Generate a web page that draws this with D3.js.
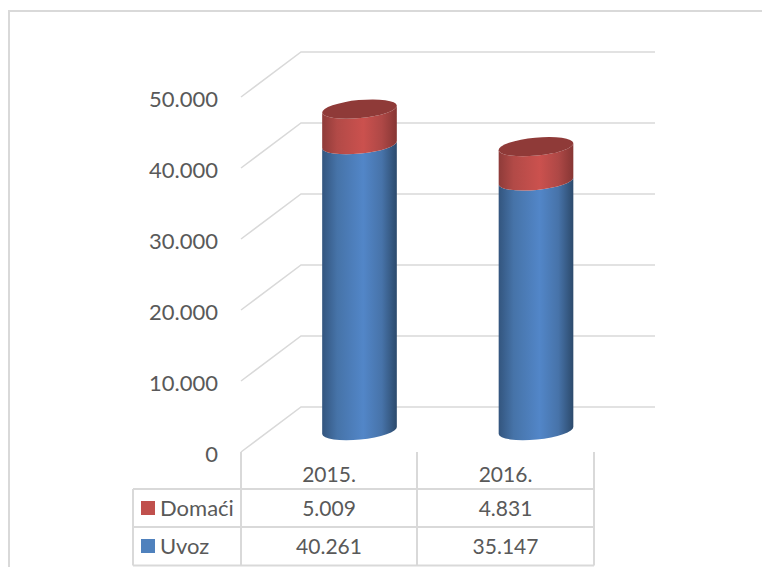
<!DOCTYPE html>
<html>
<head>
<meta charset="utf-8">
<script src="https://cdn.jsdelivr.net/npm/d3@7/dist/d3.min.js"></script>
<style>
html, body { margin: 0; padding: 0; background: #fff; }
svg { display: block; }
text { font-family: Lato, "Open Sans", sans-serif; fill: #595959; }
</style>
</head>
<body>
<div id="chart"></div>
<script>
const years = ["2015.", "2016."]
const seriesNames = ["Domaći", "Uvoz"]
const domaci = [5009, 4831]
const uvoz = [40261, 35147]
const domaciLabels = ["5.009", "4.831"]
const uvozLabels = ["40.261", "35.147"]
const yTicks = [0, 10000, 20000, 30000, 40000, 50000]

const width = 762
const height = 567

const svg = d3.select("#chart").append("svg")
    .attr("width", width)
    .attr("height", height)

const defs = svg.append("defs")

const addGradient = (id, colors) => {
    const g = defs.append("linearGradient").attr("id", id)
    const offsets = ["0%", "20%", "55%", "80%", "100%"]
    colors.forEach((c, i) => {
        g.append("stop").attr("offset", offsets[i]).attr("stop-color", c)
    })
}
addGradient("blueSide", ["#33557e", "#4673a8", "#5286c8", "#4773a9", "#2c4a6c"])
addGradient("redSide", ["#8e3b39", "#b24a47", "#cb514e", "#ae4846", "#863634"])

// outer frame, cut off on the right and at the bottom
const frameColor = "#d9d9d9"
svg.append("path")
    .attr("d", "M9,567V11H762")
    .attr("fill", "none")
    .attr("stroke", frameColor)
    .attr("stroke-width", 2)

// front plane of the pseudo 3D plot
const yFront = d3.scaleLinear().domain([0, 50000]).range([452, 97])
const yBack = d3.scaleLinear().domain([0, 50000]).range([407, 52])
const yBar = d3.scaleLinear().domain([0, 50000]).range([430.5, 75.5])
const xFrontLeft = 241
const xBackLeft = 301
const xBackRight = 655

const gridColor = "#d9d9d9"
const grid = svg.append("g")
    .attr("fill", "none")
    .attr("stroke", gridColor)
    .attr("stroke-width", 1.5)

grid.selectAll("path")
    .data(yTicks)
    .join("path")
    .attr("d", d => `M${xFrontLeft},${yFront(d)}L${xBackLeft},${yBack(d)}H${xBackRight}`)

// value axis labels
const yAxis = d3.axisLeft(yFront)
    .tickValues(yTicks)
    .tickSize(0)
    .tickPadding(23)
    .tickFormat(d => d3.format(",")(d).replace(",", "."))

const yAxisG = svg.append("g")
    .attr("transform", `translate(${xFrontLeft},2)`)
    .call(yAxis)
yAxisG.select(".domain").remove()
yAxisG.selectAll("text")
    .style("font-size", "22px")
    .attr("fill", "#595959")

// cylinders
const xCenter = d3.scalePoint().domain(years).range([359.5, 536])
const rx = 37.5
const ry = 9
const tilt = -5.5
const dx = rx * Math.cos(tilt * Math.PI / 180)
const dy = rx * Math.sin(tilt * Math.PI / 180)

const sidePath = (cx, yBottom, yTop) =>
    `M${cx - dx},${yTop - dy}` +
    `A${rx},${ry} ${tilt} 0 0 ${cx + dx},${yTop + dy}` +
    `V${yBottom + dy}` +
    `A${rx},${ry} ${tilt} 0 1 ${cx - dx},${yBottom - dy}Z`

const bars = svg.append("g")
    .selectAll("g")
    .data(years)
    .join("g")

bars.append("path")
    .attr("fill", "url(#blueSide)")
    .attr("d", (d, i) => sidePath(xCenter(d), yBar(0), yBar(uvoz[i])))

bars.append("path")
    .attr("fill", "url(#redSide)")
    .attr("d", (d, i) => sidePath(xCenter(d), yBar(uvoz[i]), yBar(uvoz[i] + domaci[i])))

bars.append("ellipse")
    .attr("rx", rx)
    .attr("ry", ry)
    .attr("fill", "#8f3a38")
    .attr("transform", (d, i) => `translate(${xCenter(d)},${yBar(uvoz[i] + domaci[i])}) rotate(${tilt})`)

// data table under the plot
const tableX = [133, 241, 417, 594]
const tableY = [489, 527, 565.5]
const tableTop = 452
const table = svg.append("g")
    .attr("fill", "none")
    .attr("stroke", gridColor)
    .attr("stroke-width", 2)

table.selectAll("path.h")
    .data(tableY)
    .join("path")
    .attr("class", "h")
    .attr("d", d => `M${tableX[0]},${d}H${tableX[3]}`)

table.selectAll("path.v")
    .data(tableX)
    .join("path")
    .attr("class", "v")
    .attr("d", (d, i) => `M${d},${i === 0 ? tableY[0] : tableTop}V${tableY[2]}`)

const colCenter = [329, 505.5]
const rowBaseline = [482, 516, 554]
const cellFont = "21px"

svg.append("g").selectAll("text")
    .data(years)
    .join("text")
    .attr("x", (d, i) => colCenter[i])
    .attr("y", rowBaseline[0])
    .attr("text-anchor", "middle")
    .style("font-size", cellFont)
    .text(d => d)

const valueRows = [domaciLabels, uvozLabels]
valueRows.forEach((labels, r) => {
    svg.append("g").selectAll("text")
        .data(labels)
        .join("text")
        .attr("x", (d, i) => colCenter[i])
        .attr("y", rowBaseline[r + 1])
        .attr("text-anchor", "middle")
        .style("font-size", cellFont)
        .text(d => d)
})

// legend keys in the table
const keyColors = ["#c0504d", "#4f81bd"]
const legend = svg.append("g").selectAll("g")
    .data(seriesNames)
    .join("g")

legend.append("rect")
    .attr("x", 141)
    .attr("y", (d, i) => rowBaseline[i + 1] - 15)
    .attr("width", 14)
    .attr("height", 14)
    .attr("fill", (d, i) => keyColors[i])

legend.append("text")
    .attr("x", 160)
    .attr("y", (d, i) => rowBaseline[i + 1])
    .style("font-size", "22px")
    .text(d => d)
</script>
</body>
</html>
